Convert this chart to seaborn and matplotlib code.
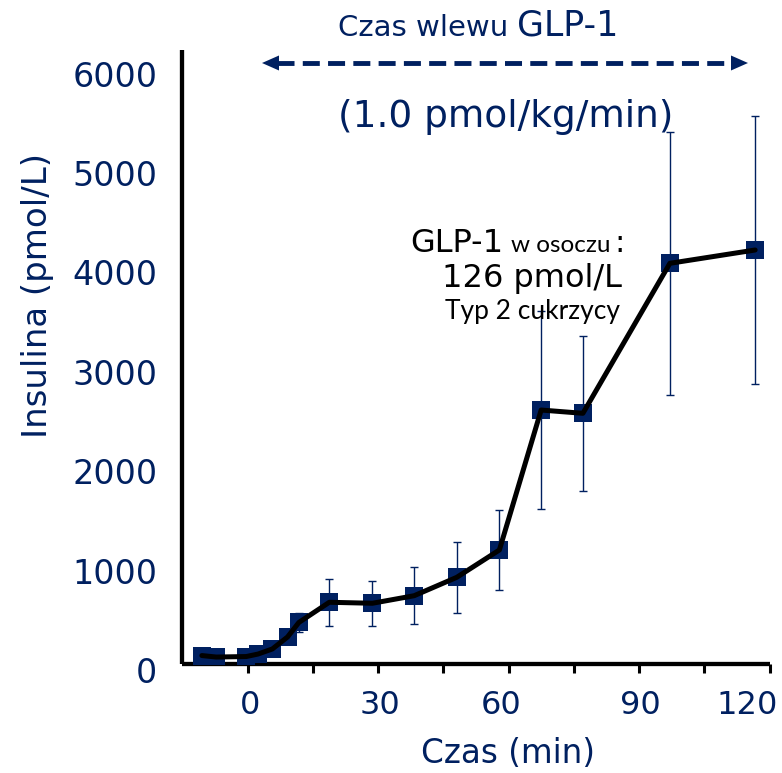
import numpy as np
import pandas as pd
import matplotlib
matplotlib.use("Agg")
import matplotlib.pyplot as plt
import matplotlib.transforms as mtransforms
from matplotlib.patches import Polygon
from matplotlib.lines import Line2D
import seaborn as sns

# ---- data ----
time_min = [-10.5, -7.2, -0.3, 2.4, 5.7, 9.2, 11.8, 18.8, 28.7, 38.3, 48.1, 57.9, 67.5, 77.1, 97.1, 116.7]
insulin = [85, 70, 75, 100, 151, 272, 418, 621, 611, 687, 872, 1147, 2555, 2522, 4031, 4165]
insulin_err = [20, 20, 20, 25, 35, 50, 95, 235, 226, 287, 357, 400, 1000, 778, 1325, 1352]
x_ticks = [0, 30, 60, 90, 120]
x_minor = [15, 45, 75, 105]
y_ticks = [0, 1000, 2000, 3000, 4000, 5000, 6000]

NAVY = "#002060"
W, H = 782, 773

sns.set_style("white")
plt.rcParams["font.family"] = ["DejaVu Sans"]

fig = plt.figure(figsize=(W / 100, H / 100), dpi=100)
ax = fig.add_axes([182.3 / W, 1 - 664 / H, 587.2 / W, 614 / H])

df = pd.DataFrame({"t": time_min, "ins": insulin, "err": insulin_err})

ax.errorbar(df["t"], df["ins"], yerr=df["err"], fmt="none", ecolor=NAVY,
            elinewidth=1.0, capsize=3.1, capthick=1.0, zorder=2)
sns.scatterplot(data=df, x="t", y="ins", marker="s", s=165, color=NAVY,
                linewidth=0, ax=ax, zorder=3, legend=False)
sns.lineplot(data=df, x="t", y="ins", color="black", lw=3.6, ax=ax,
             zorder=4, sort=False, estimator=None, legend=False)

ax.set_xlim(-15, 120)
ax.set_ylim(0, 6177)
ax.set_xticks(x_ticks)
ax.set_xticks(x_minor, minor=True)
ax.set_yticks(y_ticks)
ax.set_xticklabels([str(v) for v in x_ticks])
ax.set_yticklabels([str(v) for v in y_ticks])

for side in ["top", "right"]:
    ax.spines[side].set_visible(False)
for side in ["left", "bottom"]:
    ax.spines[side].set_color("black")
    ax.spines[side].set_linewidth(3.1)
    ax.spines[side].set_capstyle("butt")

ax.tick_params(axis="x", which="both", direction="out", length=6.5, width=2.2,
               color="black", bottom=True)
ax.tick_params(axis="x", which="major", labelsize=23, labelcolor=NAVY, pad=12)
ax.tick_params(axis="y", which="both", length=0, labelsize=24, labelcolor=NAVY, pad=18)
off = mtransforms.ScaledTranslation(0, -6 / 100, fig.dpi_scale_trans)
for lab in ax.get_yticklabels():
    lab.set_transform(lab.get_transform() + off)
# x tick labels sit slightly off their ticks in the reference
x_shift_px = [3, 2, -7, 1, -22]
for lab, dx in zip(ax.get_xticklabels(), x_shift_px):
    lab.set_transform(lab.get_transform() +
                      mtransforms.ScaledTranslation(dx / 100, 0, fig.dpi_scale_trans))

ax.set_xlabel("Czas (min)", fontsize=23.5, color=NAVY)
ax.xaxis.label.set_va("baseline")
ax.xaxis.set_label_coords((508 - 182.3) / 587.2, (664 - 763) / 614)
ax.set_ylabel("Insulina (pmol/L)", fontsize=24.5, color=NAVY)
ax.yaxis.label.set_va("center")
ax.yaxis.set_label_coords((38 - 182.3) / 587.2, (664 - 295) / 614)


def fx(px):
    return px / W


def fy(py):
    return 1 - py / H


# title texts
fig.text(fx(508), fy(36), "Czas wlewu", ha="right", va="baseline", fontsize=21, color=NAVY)
fig.text(fx(517), fy(36), "GLP-1", ha="left", va="baseline", fontsize=25, color=NAVY)
fig.text(fx(506), fy(127), "(1.0 pmol/kg/min)", ha="center", va="baseline",
         fontsize=27, color=NAVY)

# dashed double arrow
y_arr = 63
fig.add_artist(Line2D([fx(277), fx(733)], [fy(y_arr), fy(y_arr)], transform=fig.transFigure,
                      color=NAVY, lw=3.5, dashes=(3.5, 1.7), solid_capstyle="butt",
                      dash_capstyle="butt"))
for tip, base in [(262, 279), (748, 731)]:
    fig.add_artist(Polygon([(fx(tip), fy(y_arr)), (fx(base), fy(y_arr - 7.5)),
                            (fx(base), fy(y_arr + 7.5))], closed=True,
                           transform=fig.transFigure, facecolor=NAVY, edgecolor="none"))

# annotation
fig.text(fx(457), fy(251.7), "GLP-1", ha="center", va="baseline", fontsize=23, color="black")
fig.text(fx(511), fy(251.7), "w osoczu", ha="left", va="baseline", fontsize=17.5,
         color="black", family=["Lato", "DejaVu Sans"])
fig.text(fx(620), fy(251.7), ":", ha="center", va="baseline", fontsize=22, color="black")
fig.text(fx(622), fy(286.7), "126 pmol/L", ha="right", va="baseline", fontsize=23, color="black")
fig.text(fx(620), fy(319.3), "Typ 2 cukrzycy", ha="right", va="baseline", fontsize=19,
         color="black", family=["Lato", "DejaVu Sans"])

fig.savefig("out.png", dpi=100)
